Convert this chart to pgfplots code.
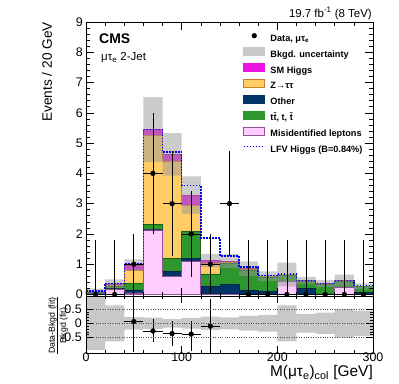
\documentclass[border=0pt]{standalone}
\usepackage{fontspec}
\setmainfont{Liberation Sans}
\usepackage{pgfplots}
\usepackage{pgfplotstable}
\pgfplotsset{compat=1.18}

\definecolor{HiggsC}{RGB}{235,20,225}
\definecolor{HiggsD}{RGB}{180,0,170}
\definecolor{ZttC}{RGB}{255,204,102}
\definecolor{ZttD}{RGB}{205,125,45}
\definecolor{OthC}{RGB}{0,51,102}
\definecolor{TopC}{RGB}{45,150,45}
\definecolor{TopD}{RGB}{20,100,20}
\definecolor{MisC}{RGB}{255,204,255}
\definecolor{MisD}{RGB}{150,80,150}
\definecolor{BandC}{RGB}{200,200,200}

% cumulative stack tops per 20 GeV bin (left edge) and LFV total
\pgfplotstableread{
x   mis  oth  tt   z    h    lfv
0   0.02 0.06 0.08 0.09 0.10 0.12
20  0.17 0.20 0.28 0.31 0.35 0.37
40  0.05 0.15 0.37 0.81 0.97 1.00
60  2.13 2.16 2.31 5.25 5.45 5.45
80  0.60 0.75 1.18 4.40 4.63 4.70
100 1.08 1.18 2.08 2.95 3.28 3.60
120 0.00 0.26 0.68 1.03 1.12 1.86
140 0.00 0.32 1.03 1.07 1.10 1.27
160 0.00 0.13 0.81 0.84 0.85 0.91
180 0.00 0.10 0.58 0.59 0.60 0.62
200 0.42 0.43 0.64 0.65 0.66 0.67
220 0.00 0.20 0.45 0.45 0.46 0.47
240 0.00 0.02 0.35 0.35 0.36 0.37
260 0.23 0.25 0.45 0.45 0.46 0.47
280 0.00 0.08 0.26 0.26 0.27 0.30
300 0.00 0.08 0.26 0.26 0.27 0.30
}\stack

% background uncertainty band: upper edge left to right, lower edge right to left
\pgfplotstableread{
x   y
0   0.19
20  0.50
40  1.16
60  6.52
80  5.33
100 3.90
120 1.34
140 1.33
160 1.09
180 0.76
200 1.05
220 0.58
240 0.48
260 0.66
280 0.37
300 0.37
300 0.17
280 0.26
260 0.24
240 0.34
220 0.27
200 0.44
180 0.61
160 0.87
140 0.90
120 2.66
100 3.93
80  4.38
60  0.78
40  0.20
20  0.01
0   0.01
}\band

\pgfplotstableread{
x   y ex ep   em
10  0 10 1.8  0
30  0 10 1.8  0
50  1 10 1    1
70  4 10 2    2
90  3 10 1.73 1.73
110 2 10 1.41 1.41
130 1 10 1    1
150 3 10 1.73 1.73
170 0 10 1.8  0
190 0 10 1.8  0
210 0 10 1.8  0
230 0 10 1.8  0
250 0 10 1.8  0
270 0 10 1.8  0
290 0 10 1.8  0
}\data

% relative uncertainty band of the ratio panel, same tracing
\pgfplotstableread{
x   y
0   0.96
20  0.63
40  0.22
60  0.20
80  0.15
100 0.19
120 0.23
140 0.21
160 0.26
180 0.29
200 0.63
220 0.33
240 0.37
260 0.50
280 0.44
300 0.44
300 -0.44
280 -0.50
260 -0.37
240 -0.33
220 -0.63
200 -0.29
180 -0.26
160 -0.21
140 -0.23
120 -0.19
100 -0.15
80  -0.20
60  -0.22
40  -0.63
20  -0.93
0   -0.93
}\rband

\pgfplotstableread{
x   y     ex ep   em
50  0.06  10 1.05 1.05
70  -0.27 10 0.43 0.40
90  -0.36 10 0.44 0.42
110 -0.38 10 0.46 0.60
130 -0.10 10 0.94 0.94
}\rdata

\newcommand{\legbox}[2]{\addlegendimage{legend image code/.code={%
  \filldraw[fill=#1,draw=#2,line width=0.8bp] (0bp,-0.7bp) rectangle (21bp,7.3bp);}}}

\tikzset{lfvline/.style={draw=blue, line width=1.5bp, dash pattern=on 1.6bp off 1.4bp}}

\pgfplotsset{
  cmsaxis/.style={
    scale only axis, width=287bp,
    xmin=0, xmax=300,
    xtick={0,100,200,300}, minor x tick num=4,
    tick align=inside, xtick pos=both, ytick pos=both,
    axis on top,
    axis line style={line width=0.8bp},
    tick style={line width=0.6bp, black},
    tick label style={font=\fontsize{12.5}{14}\selectfont},
    /pgf/number format/assume math mode=true,
  },
  histo/.style={const plot mark left, line width=0.7bp, forget plot},
  lfvleg/.style={legend image code/.code={%
    \path[draw=none,fill=none] (0bp,-0.7bp) rectangle (21bp,7.3bp);
    \draw[lfvline] (0bp,3.3bp) -- (21bp,3.3bp);}},
}

\begin{document}
\begin{tikzpicture}

\begin{axis}[
  cmsaxis, name=main, at={(0,0)}, anchor=south west,
  height=274bp,
  ymin=-0.05, ymax=9,
  xticklabels={},
  ytick={0,1,...,9}, minor y tick num=4,
  major tick length=8bp, minor tick length=4bp,
  yticklabel style={inner sep=0pt, xshift=-3bp},
  ylabel={Events / 20 GeV},
  ylabel style={font=\fontsize{13.7}{16}\selectfont, at={(axis description cs:-0.136,1)}, anchor=east, inner sep=0pt},
  legend style={at={(axis cs:164.1,8.68)}, anchor=north west, draw=none, fill=none,
    inner sep=0pt, outer sep=0pt, row sep=3.45bp, column sep=5bp,
    font=\bfseries\fontsize{9.2}{11}\selectfont,
    nodes={inner sep=0pt, text height=7bp, text depth=2.5bp}},
  legend cell align=left,
]
  \addplot[histo, fill=HiggsC, draw=HiggsD] table[x=x,y=h] {\stack} \closedcycle;
  \addplot[histo, fill=ZttC, draw=ZttD] table[x=x,y=z] {\stack} \closedcycle;
  \addplot[histo, fill=TopC, draw=TopD] table[x=x,y=tt] {\stack} \closedcycle;
  \addplot[histo, fill=OthC, draw=OthC!70!black] table[x=x,y=oth] {\stack} \closedcycle;
  \addplot[histo, fill=MisC, draw=MisD] table[x=x,y=mis] {\stack} \closedcycle;

  \addplot[histo, fill=black!40, fill opacity=0.5, draw=none] table[x=x,y=y] {\band};

  \addplot[histo, lfvline] table[x=x,y=lfv] {\stack};

  \addplot[only marks, mark=*, mark size=2.4bp, black, forget plot,
    error bars/.cd, x dir=both, x explicit, y dir=both, y explicit, error mark=none,
    error bar style={line width=0.7bp, black}]
    table[x=x, y=y, x error=ex, y error plus=ep, y error minus=em] {\data};

  \addlegendimage{legend image code/.code={\path[draw=none,fill=none] (0bp,-0.7bp) rectangle (21bp,7.3bp); \fill[black] (10.5bp,3.3bp) circle (2.4bp);}}
  \addlegendentry{Data, μτ\textsubscript{e}}
  \legbox{BandC}{BandC}
  \addlegendentry{Bkgd. uncertainty}
  \legbox{HiggsC}{HiggsC}
  \addlegendentry{SM Higgs}
  \legbox{ZttC}{ZttD}
  \addlegendentry{Z→ττ}
  \legbox{OthC}{OthC}
  \addlegendentry{Other}
  \legbox{TopC}{TopC}
  \addlegendentry{t\={t}, t, \={t}}
  \legbox{MisC}{MisD}
  \addlegendentry{Misidentified leptons}
  \addlegendimage{lfvline, lfvleg}
  \addlegendentry{LFV Higgs (B=0.84\%)}

  \node[anchor=base west, inner sep=0pt, font=\bfseries\fontsize{14}{16}\selectfont] at (axis cs:13.6,8.297) {CMS};
  \node[anchor=base west, inner sep=0pt, font=\fontsize{11.5}{13}\selectfont] at (axis cs:15.7,7.72) {μτ\textsubscript{e} 2-Jet};
\end{axis}

\node[anchor=base east, inner sep=0pt, font=\fontsize{11.5}{13}\selectfont, xshift=-1bp, yshift=4.7bp] at (main.north east) {19.7 fb\textsuperscript{-1} (8 TeV)};

\begin{axis}[
  cmsaxis, at={(main.south west)}, anchor=north west,
  height=57bp,
  ymin=-1.04, ymax=0.955,
  ytick={-0.5,0,0.5}, yticklabels={-0.5,0,0.5}, minor y tick num=4,
  major tick length=7bp, minor tick length=3.5bp,
  yticklabel style={inner sep=0pt, xshift=-4bp},
  xticklabel style={inner sep=0pt, yshift=0bp},
  ymajorgrids, grid style={dotted, line width=0.6bp, black!70},
  xlabel={M(μτ\textsubscript{e})\textsubscript{col} [GeV]},
  xlabel style={font=\fontsize{15.5}{18}\selectfont, at={(axis description cs:1,-0.42)}, anchor=base east, inner sep=0pt},
  ylabel={\renewcommand{\arraystretch}{1}\begin{tabular}{@{}c@{}}Data-Bkgd (fit)\\[-0.7bp]\hline\rule{0pt}{8.7bp}Bkgd (fit)\end{tabular}},
  ylabel style={font=\fontsize{8.8}{10}\selectfont, at={(axis description cs:-0.0958,0.482)}, anchor=center, inner sep=0pt},
]
  \addplot[histo, fill=BandC, draw=none] table[x=x,y=y] {\rband};

  \addplot[only marks, mark=*, mark size=2.4bp, black, forget plot,
    error bars/.cd, x dir=both, x explicit, y dir=both, y explicit, error mark=none,
    error bar style={line width=0.7bp, black}]
    table[x=x, y=y, x error=ex, y error plus=ep, y error minus=em] {\rdata};
\end{axis}

\pgfresetboundingbox
\useasboundingbox (-86bp,-88bp) rectangle (313bp,296bp);
\end{tikzpicture}
\end{document}
